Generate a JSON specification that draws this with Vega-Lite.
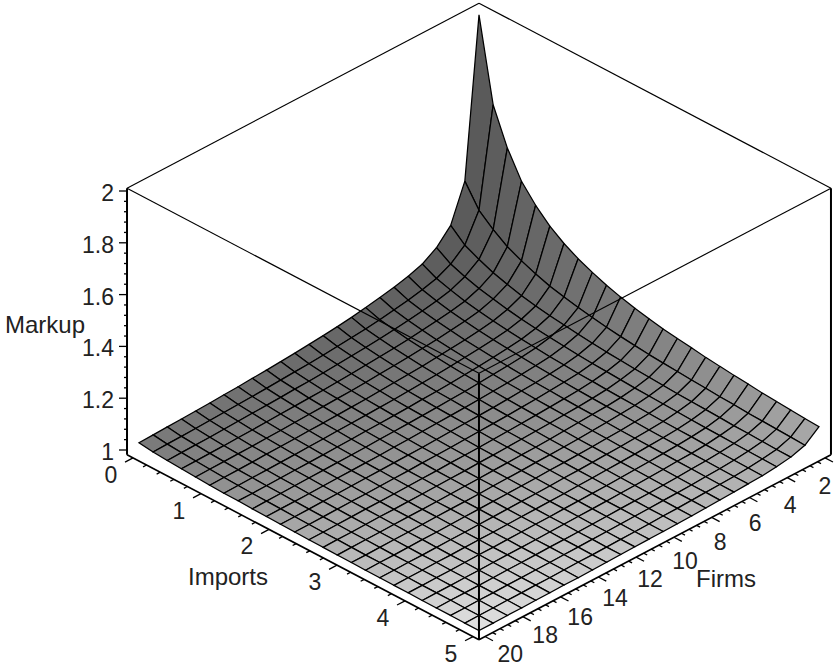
{"$schema":"https://vega.github.io/schema/vega-lite/v6.json","width":835,"height":671,"autosize":{"type":"fit","contains":"padding"},"padding":0,"background":"white","view":{"stroke":null},
"datasets":{
"surface":[
{"i":0,"n":2,"z":1.989},{"i":0.208,"n":2,"z":1.671},{"i":0.417,"n":2,"z":1.533},{"i":0.625,"n":2,"z":1.433},{"i":0.833,"n":2,"z":1.369},{"i":1.042,"n":2,"z":1.317},{"i":1.25,"n":2,"z":1.279},{"i":1.458,"n":2,"z":1.249},{"i":1.667,"n":2,"z":1.225},{"i":1.875,"n":2,"z":1.204},{"i":2.083,"n":2,"z":1.187},{"i":2.292,"n":2,"z":1.173},{"i":2.5,"n":2,"z":1.161},{"i":2.708,"n":2,"z":1.15},{"i":2.917,"n":2,"z":1.142},{"i":3.125,"n":2,"z":1.135},{"i":3.333,"n":2,"z":1.127},{"i":3.542,"n":2,"z":1.121},{"i":3.75,"n":2,"z":1.115},{"i":3.958,"n":2,"z":1.11},{"i":4.167,"n":2,"z":1.104},{"i":4.375,"n":2,"z":1.1},{"i":4.583,"n":2,"z":1.096},{"i":4.792,"n":2,"z":1.092},{"i":5,"n":2,"z":1.089},
{"i":0,"n":2.75,"z":1.376},{"i":0.208,"n":2.75,"z":1.292},{"i":0.417,"n":2.75,"z":1.246},{"i":0.625,"n":2.75,"z":1.209},{"i":0.833,"n":2.75,"z":1.183},{"i":1.042,"n":2.75,"z":1.161},{"i":1.25,"n":2.75,"z":1.143},{"i":1.458,"n":2.75,"z":1.13},{"i":1.667,"n":2.75,"z":1.118},{"i":1.875,"n":2.75,"z":1.108},{"i":2.083,"n":2.75,"z":1.099},{"i":2.292,"n":2.75,"z":1.092},{"i":2.5,"n":2.75,"z":1.086},{"i":2.708,"n":2.75,"z":1.08},{"i":2.917,"n":2.75,"z":1.076},{"i":3.125,"n":2.75,"z":1.072},{"i":3.333,"n":2.75,"z":1.068},{"i":3.542,"n":2.75,"z":1.065},{"i":3.75,"n":2.75,"z":1.061},{"i":3.958,"n":2.75,"z":1.059},{"i":4.167,"n":2.75,"z":1.055},{"i":4.375,"n":2.75,"z":1.053},{"i":4.583,"n":2.75,"z":1.051},{"i":4.792,"n":2.75,"z":1.049},{"i":5,"n":2.75,"z":1.046},
{"i":0,"n":3.5,"z":1.234},{"i":0.208,"n":3.5,"z":1.186},{"i":0.417,"n":3.5,"z":1.16},{"i":0.625,"n":3.5,"z":1.137},{"i":0.833,"n":3.5,"z":1.121},{"i":1.042,"n":3.5,"z":1.106},{"i":1.25,"n":3.5,"z":1.095},{"i":1.458,"n":3.5,"z":1.086},{"i":1.667,"n":3.5,"z":1.079},{"i":1.875,"n":3.5,"z":1.072},{"i":2.083,"n":3.5,"z":1.066},{"i":2.292,"n":3.5,"z":1.061},{"i":2.5,"n":3.5,"z":1.057},{"i":2.708,"n":3.5,"z":1.053},{"i":2.917,"n":3.5,"z":1.05},{"i":3.125,"n":3.5,"z":1.047},{"i":3.333,"n":3.5,"z":1.044},{"i":3.542,"n":3.5,"z":1.042},{"i":3.75,"n":3.5,"z":1.04},{"i":3.958,"n":3.5,"z":1.038},{"i":4.167,"n":3.5,"z":1.035},{"i":4.375,"n":3.5,"z":1.034},{"i":4.583,"n":3.5,"z":1.032},{"i":4.792,"n":3.5,"z":1.03},{"i":5,"n":3.5,"z":1.029},
{"i":0,"n":4.25,"z":1.177},{"i":0.208,"n":4.25,"z":1.142},{"i":0.417,"n":4.25,"z":1.122},{"i":0.625,"n":4.25,"z":1.105},{"i":0.833,"n":4.25,"z":1.093},{"i":1.042,"n":4.25,"z":1.082},{"i":1.25,"n":4.25,"z":1.073},{"i":1.458,"n":4.25,"z":1.066},{"i":1.667,"n":4.25,"z":1.06},{"i":1.875,"n":4.25,"z":1.055},{"i":2.083,"n":4.25,"z":1.05},{"i":2.292,"n":4.25,"z":1.046},{"i":2.5,"n":4.25,"z":1.043},{"i":2.708,"n":4.25,"z":1.04},{"i":2.917,"n":4.25,"z":1.037},{"i":3.125,"n":4.25,"z":1.035},{"i":3.333,"n":4.25,"z":1.033},{"i":3.542,"n":4.25,"z":1.031},{"i":3.75,"n":4.25,"z":1.029},{"i":3.958,"n":4.25,"z":1.027},{"i":4.167,"n":4.25,"z":1.026},{"i":4.375,"n":4.25,"z":1.024},{"i":4.583,"n":4.25,"z":1.023},{"i":4.792,"n":4.25,"z":1.022},{"i":5,"n":4.25,"z":1.021},
{"i":0,"n":5,"z":1.142},{"i":0.208,"n":5,"z":1.115},{"i":0.417,"n":5,"z":1.099},{"i":0.625,"n":5,"z":1.085},{"i":0.833,"n":5,"z":1.075},{"i":1.042,"n":5,"z":1.066},{"i":1.25,"n":5,"z":1.059},{"i":1.458,"n":5,"z":1.053},{"i":1.667,"n":5,"z":1.048},{"i":1.875,"n":5,"z":1.043},{"i":2.083,"n":5,"z":1.04},{"i":2.292,"n":5,"z":1.036},{"i":2.5,"n":5,"z":1.034},{"i":2.708,"n":5,"z":1.031},{"i":2.917,"n":5,"z":1.029},{"i":3.125,"n":5,"z":1.027},{"i":3.333,"n":5,"z":1.025},{"i":3.542,"n":5,"z":1.023},{"i":3.75,"n":5,"z":1.022},{"i":3.958,"n":5,"z":1.021},{"i":4.167,"n":5,"z":1.019},{"i":4.375,"n":5,"z":1.018},{"i":4.583,"n":5,"z":1.017},{"i":4.792,"n":5,"z":1.016},{"i":5,"n":5,"z":1.015},
{"i":0,"n":5.75,"z":1.124},{"i":0.208,"n":5.75,"z":1.1},{"i":0.417,"n":5.75,"z":1.086},{"i":0.625,"n":5.75,"z":1.074},{"i":0.833,"n":5.75,"z":1.065},{"i":1.042,"n":5.75,"z":1.057},{"i":1.25,"n":5.75,"z":1.051},{"i":1.458,"n":5.75,"z":1.046},{"i":1.667,"n":5.75,"z":1.041},{"i":1.875,"n":5.75,"z":1.037},{"i":2.083,"n":5.75,"z":1.034},{"i":2.292,"n":5.75,"z":1.031},{"i":2.5,"n":5.75,"z":1.028},{"i":2.708,"n":5.75,"z":1.026},{"i":2.917,"n":5.75,"z":1.024},{"i":3.125,"n":5.75,"z":1.023},{"i":3.333,"n":5.75,"z":1.021},{"i":3.542,"n":5.75,"z":1.019},{"i":3.75,"n":5.75,"z":1.018},{"i":3.958,"n":5.75,"z":1.017},{"i":4.167,"n":5.75,"z":1.015},{"i":4.375,"n":5.75,"z":1.014},{"i":4.583,"n":5.75,"z":1.013},{"i":4.792,"n":5.75,"z":1.012},{"i":5,"n":5.75,"z":1.012},
{"i":0,"n":6.5,"z":1.11},{"i":0.208,"n":6.5,"z":1.089},{"i":0.417,"n":6.5,"z":1.076},{"i":0.625,"n":6.5,"z":1.066},{"i":0.833,"n":6.5,"z":1.058},{"i":1.042,"n":6.5,"z":1.05},{"i":1.25,"n":6.5,"z":1.045},{"i":1.458,"n":6.5,"z":1.04},{"i":1.667,"n":6.5,"z":1.036},{"i":1.875,"n":6.5,"z":1.032},{"i":2.083,"n":6.5,"z":1.029},{"i":2.292,"n":6.5,"z":1.027},{"i":2.5,"n":6.5,"z":1.024},{"i":2.708,"n":6.5,"z":1.022},{"i":2.917,"n":6.5,"z":1.021},{"i":3.125,"n":6.5,"z":1.019},{"i":3.333,"n":6.5,"z":1.017},{"i":3.542,"n":6.5,"z":1.016},{"i":3.75,"n":6.5,"z":1.015},{"i":3.958,"n":6.5,"z":1.014},{"i":4.167,"n":6.5,"z":1.013},{"i":4.375,"n":6.5,"z":1.012},{"i":4.583,"n":6.5,"z":1.011},{"i":4.792,"n":6.5,"z":1.01},{"i":5,"n":6.5,"z":1.009},
{"i":0,"n":7.25,"z":1.099},{"i":0.208,"n":7.25,"z":1.08},{"i":0.417,"n":7.25,"z":1.068},{"i":0.625,"n":7.25,"z":1.059},{"i":0.833,"n":7.25,"z":1.051},{"i":1.042,"n":7.25,"z":1.045},{"i":1.25,"n":7.25,"z":1.04},{"i":1.458,"n":7.25,"z":1.035},{"i":1.667,"n":7.25,"z":1.032},{"i":1.875,"n":7.25,"z":1.028},{"i":2.083,"n":7.25,"z":1.026},{"i":2.292,"n":7.25,"z":1.023},{"i":2.5,"n":7.25,"z":1.021},{"i":2.708,"n":7.25,"z":1.019},{"i":2.917,"n":7.25,"z":1.018},{"i":3.125,"n":7.25,"z":1.016},{"i":3.333,"n":7.25,"z":1.015},{"i":3.542,"n":7.25,"z":1.013},{"i":3.75,"n":7.25,"z":1.012},{"i":3.958,"n":7.25,"z":1.011},{"i":4.167,"n":7.25,"z":1.01},{"i":4.375,"n":7.25,"z":1.009},{"i":4.583,"n":7.25,"z":1.008},{"i":4.792,"n":7.25,"z":1.008},{"i":5,"n":7.25,"z":1.007},
{"i":0,"n":8,"z":1.089},{"i":0.208,"n":8,"z":1.071},{"i":0.417,"n":8,"z":1.061},{"i":0.625,"n":8,"z":1.052},{"i":0.833,"n":8,"z":1.046},{"i":1.042,"n":8,"z":1.04},{"i":1.25,"n":8,"z":1.035},{"i":1.458,"n":8,"z":1.031},{"i":1.667,"n":8,"z":1.028},{"i":1.875,"n":8,"z":1.025},{"i":2.083,"n":8,"z":1.022},{"i":2.292,"n":8,"z":1.02},{"i":2.5,"n":8,"z":1.018},{"i":2.708,"n":8,"z":1.016},{"i":2.917,"n":8,"z":1.015},{"i":3.125,"n":8,"z":1.013},{"i":3.333,"n":8,"z":1.012},{"i":3.542,"n":8,"z":1.011},{"i":3.75,"n":8,"z":1.01},{"i":3.958,"n":8,"z":1.009},{"i":4.167,"n":8,"z":1.008},{"i":4.375,"n":8,"z":1.007},{"i":4.583,"n":8,"z":1.006},{"i":4.792,"n":8,"z":1.006},{"i":5,"n":8,"z":1.005},
{"i":0,"n":8.75,"z":1.08},{"i":0.208,"n":8.75,"z":1.064},{"i":0.417,"n":8.75,"z":1.055},{"i":0.625,"n":8.75,"z":1.047},{"i":0.833,"n":8.75,"z":1.041},{"i":1.042,"n":8.75,"z":1.035},{"i":1.25,"n":8.75,"z":1.031},{"i":1.458,"n":8.75,"z":1.027},{"i":1.667,"n":8.75,"z":1.024},{"i":1.875,"n":8.75,"z":1.022},{"i":2.083,"n":8.75,"z":1.019},{"i":2.292,"n":8.75,"z":1.017},{"i":2.5,"n":8.75,"z":1.015},{"i":2.708,"n":8.75,"z":1.014},{"i":2.917,"n":8.75,"z":1.012},{"i":3.125,"n":8.75,"z":1.011},{"i":3.333,"n":8.75,"z":1.01},{"i":3.542,"n":8.75,"z":1.009},{"i":3.75,"n":8.75,"z":1.008},{"i":3.958,"n":8.75,"z":1.007},{"i":4.167,"n":8.75,"z":1.006},{"i":4.375,"n":8.75,"z":1.005},{"i":4.583,"n":8.75,"z":1.005},{"i":4.792,"n":8.75,"z":1.004},{"i":5,"n":8.75,"z":1.003},
{"i":0,"n":9.5,"z":1.073},{"i":0.208,"n":9.5,"z":1.059},{"i":0.417,"n":9.5,"z":1.05},{"i":0.625,"n":9.5,"z":1.043},{"i":0.833,"n":9.5,"z":1.037},{"i":1.042,"n":9.5,"z":1.032},{"i":1.25,"n":9.5,"z":1.028},{"i":1.458,"n":9.5,"z":1.024},{"i":1.667,"n":9.5,"z":1.022},{"i":1.875,"n":9.5,"z":1.019},{"i":2.083,"n":9.5,"z":1.017},{"i":2.292,"n":9.5,"z":1.015},{"i":2.5,"n":9.5,"z":1.013},{"i":2.708,"n":9.5,"z":1.012},{"i":2.917,"n":9.5,"z":1.01},{"i":3.125,"n":9.5,"z":1.009},{"i":3.333,"n":9.5,"z":1.008},{"i":3.542,"n":9.5,"z":1.007},{"i":3.75,"n":9.5,"z":1.006},{"i":3.958,"n":9.5,"z":1.005},{"i":4.167,"n":9.5,"z":1.005},{"i":4.375,"n":9.5,"z":1.004},{"i":4.583,"n":9.5,"z":1.003},{"i":4.792,"n":9.5,"z":1.003},{"i":5,"n":9.5,"z":1.002},
{"i":0,"n":10.25,"z":1.067},{"i":0.208,"n":10.25,"z":1.054},{"i":0.417,"n":10.25,"z":1.046},{"i":0.625,"n":10.25,"z":1.039},{"i":0.833,"n":10.25,"z":1.034},{"i":1.042,"n":10.25,"z":1.029},{"i":1.25,"n":10.25,"z":1.025},{"i":1.458,"n":10.25,"z":1.022},{"i":1.667,"n":10.25,"z":1.019},{"i":1.875,"n":10.25,"z":1.017},{"i":2.083,"n":10.25,"z":1.015},{"i":2.292,"n":10.25,"z":1.013},{"i":2.5,"n":10.25,"z":1.011},{"i":2.708,"n":10.25,"z":1.01},{"i":2.917,"n":10.25,"z":1.009},{"i":3.125,"n":10.25,"z":1.008},{"i":3.333,"n":10.25,"z":1.007},{"i":3.542,"n":10.25,"z":1.006},{"i":3.75,"n":10.25,"z":1.005},{"i":3.958,"n":10.25,"z":1.004},{"i":4.167,"n":10.25,"z":1.003},{"i":4.375,"n":10.25,"z":1.003},{"i":4.583,"n":10.25,"z":1.002},{"i":4.792,"n":10.25,"z":1.001},{"i":5,"n":10.25,"z":1.001},
{"i":0,"n":11,"z":1.062},{"i":0.208,"n":11,"z":1.049},{"i":0.417,"n":11,"z":1.042},{"i":0.625,"n":11,"z":1.035},{"i":0.833,"n":11,"z":1.03},{"i":1.042,"n":11,"z":1.026},{"i":1.25,"n":11,"z":1.022},{"i":1.458,"n":11,"z":1.019},{"i":1.667,"n":11,"z":1.017},{"i":1.875,"n":11,"z":1.015},{"i":2.083,"n":11,"z":1.013},{"i":2.292,"n":11,"z":1.011},{"i":2.5,"n":11,"z":1.009},{"i":2.708,"n":11,"z":1.008},{"i":2.917,"n":11,"z":1.007},{"i":3.125,"n":11,"z":1.006},{"i":3.333,"n":11,"z":1.005},{"i":3.542,"n":11,"z":1.004},{"i":3.75,"n":11,"z":1.003},{"i":3.958,"n":11,"z":1.003},{"i":4.167,"n":11,"z":1.002},{"i":4.375,"n":11,"z":1.001},{"i":4.583,"n":11,"z":1.001},{"i":4.792,"n":11,"z":1},{"i":5,"n":11,"z":1},
{"i":0,"n":11.75,"z":1.057},{"i":0.208,"n":11.75,"z":1.045},{"i":0.417,"n":11.75,"z":1.038},{"i":0.625,"n":11.75,"z":1.032},{"i":0.833,"n":11.75,"z":1.027},{"i":1.042,"n":11.75,"z":1.023},{"i":1.25,"n":11.75,"z":1.02},{"i":1.458,"n":11.75,"z":1.017},{"i":1.667,"n":11.75,"z":1.015},{"i":1.875,"n":11.75,"z":1.013},{"i":2.083,"n":11.75,"z":1.011},{"i":2.292,"n":11.75,"z":1.009},{"i":2.5,"n":11.75,"z":1.008},{"i":2.708,"n":11.75,"z":1.007},{"i":2.917,"n":11.75,"z":1.006},{"i":3.125,"n":11.75,"z":1.005},{"i":3.333,"n":11.75,"z":1.004},{"i":3.542,"n":11.75,"z":1.003},{"i":3.75,"n":11.75,"z":1.002},{"i":3.958,"n":11.75,"z":1.002},{"i":4.167,"n":11.75,"z":1.001},{"i":4.375,"n":11.75,"z":1},{"i":4.583,"n":11.75,"z":1},{"i":4.792,"n":11.75,"z":0.999},{"i":5,"n":11.75,"z":0.999},
{"i":0,"n":12.5,"z":1.053},{"i":0.208,"n":12.5,"z":1.042},{"i":0.417,"n":12.5,"z":1.035},{"i":0.625,"n":12.5,"z":1.029},{"i":0.833,"n":12.5,"z":1.025},{"i":1.042,"n":12.5,"z":1.021},{"i":1.25,"n":12.5,"z":1.018},{"i":1.458,"n":12.5,"z":1.015},{"i":1.667,"n":12.5,"z":1.013},{"i":1.875,"n":12.5,"z":1.011},{"i":2.083,"n":12.5,"z":1.009},{"i":2.292,"n":12.5,"z":1.008},{"i":2.5,"n":12.5,"z":1.007},{"i":2.708,"n":12.5,"z":1.005},{"i":2.917,"n":12.5,"z":1.004},{"i":3.125,"n":12.5,"z":1.004},{"i":3.333,"n":12.5,"z":1.003},{"i":3.542,"n":12.5,"z":1.002},{"i":3.75,"n":12.5,"z":1.001},{"i":3.958,"n":12.5,"z":1},{"i":4.167,"n":12.5,"z":1},{"i":4.375,"n":12.5,"z":0.999},{"i":4.583,"n":12.5,"z":0.999},{"i":4.792,"n":12.5,"z":0.998},{"i":5,"n":12.5,"z":0.998},
{"i":0,"n":13.25,"z":1.049},{"i":0.208,"n":13.25,"z":1.039},{"i":0.417,"n":13.25,"z":1.033},{"i":0.625,"n":13.25,"z":1.027},{"i":0.833,"n":13.25,"z":1.023},{"i":1.042,"n":13.25,"z":1.019},{"i":1.25,"n":13.25,"z":1.016},{"i":1.458,"n":13.25,"z":1.014},{"i":1.667,"n":13.25,"z":1.012},{"i":1.875,"n":13.25,"z":1.01},{"i":2.083,"n":13.25,"z":1.008},{"i":2.292,"n":13.25,"z":1.007},{"i":2.5,"n":13.25,"z":1.005},{"i":2.708,"n":13.25,"z":1.004},{"i":2.917,"n":13.25,"z":1.003},{"i":3.125,"n":13.25,"z":1.002},{"i":3.333,"n":13.25,"z":1.002},{"i":3.542,"n":13.25,"z":1.001},{"i":3.75,"n":13.25,"z":1},{"i":3.958,"n":13.25,"z":1},{"i":4.167,"n":13.25,"z":0.999},{"i":4.375,"n":13.25,"z":0.998},{"i":4.583,"n":13.25,"z":0.998},{"i":4.792,"n":13.25,"z":0.997},{"i":5,"n":13.25,"z":0.997},
{"i":0,"n":14,"z":1.046},{"i":0.208,"n":14,"z":1.036},{"i":0.417,"n":14,"z":1.03},{"i":0.625,"n":14,"z":1.025},{"i":0.833,"n":14,"z":1.021},{"i":1.042,"n":14,"z":1.017},{"i":1.25,"n":14,"z":1.015},{"i":1.458,"n":14,"z":1.012},{"i":1.667,"n":14,"z":1.01},{"i":1.875,"n":14,"z":1.008},{"i":2.083,"n":14,"z":1.007},{"i":2.292,"n":14,"z":1.005},{"i":2.5,"n":14,"z":1.004},{"i":2.708,"n":14,"z":1.003},{"i":2.917,"n":14,"z":1.002},{"i":3.125,"n":14,"z":1.001},{"i":3.333,"n":14,"z":1.001},{"i":3.542,"n":14,"z":1},{"i":3.75,"n":14,"z":0.999},{"i":3.958,"n":14,"z":0.999},{"i":4.167,"n":14,"z":0.998},{"i":4.375,"n":14,"z":0.998},{"i":4.583,"n":14,"z":0.997},{"i":4.792,"n":14,"z":0.997},{"i":5,"n":14,"z":0.996},
{"i":0,"n":14.75,"z":1.042},{"i":0.208,"n":14.75,"z":1.033},{"i":0.417,"n":14.75,"z":1.028},{"i":0.625,"n":14.75,"z":1.023},{"i":0.833,"n":14.75,"z":1.019},{"i":1.042,"n":14.75,"z":1.016},{"i":1.25,"n":14.75,"z":1.013},{"i":1.458,"n":14.75,"z":1.011},{"i":1.667,"n":14.75,"z":1.009},{"i":1.875,"n":14.75,"z":1.007},{"i":2.083,"n":14.75,"z":1.006},{"i":2.292,"n":14.75,"z":1.004},{"i":2.5,"n":14.75,"z":1.003},{"i":2.708,"n":14.75,"z":1.002},{"i":2.917,"n":14.75,"z":1.001},{"i":3.125,"n":14.75,"z":1.001},{"i":3.333,"n":14.75,"z":1},{"i":3.542,"n":14.75,"z":0.999},{"i":3.75,"n":14.75,"z":0.998},{"i":3.958,"n":14.75,"z":0.998},{"i":4.167,"n":14.75,"z":0.997},{"i":4.375,"n":14.75,"z":0.997},{"i":4.583,"n":14.75,"z":0.996},{"i":4.792,"n":14.75,"z":0.996},{"i":5,"n":14.75,"z":0.995},
{"i":0,"n":15.5,"z":1.04},{"i":0.208,"n":15.5,"z":1.031},{"i":0.417,"n":15.5,"z":1.026},{"i":0.625,"n":15.5,"z":1.021},{"i":0.833,"n":15.5,"z":1.017},{"i":1.042,"n":15.5,"z":1.014},{"i":1.25,"n":15.5,"z":1.012},{"i":1.458,"n":15.5,"z":1.009},{"i":1.667,"n":15.5,"z":1.008},{"i":1.875,"n":15.5,"z":1.006},{"i":2.083,"n":15.5,"z":1.005},{"i":2.292,"n":15.5,"z":1.003},{"i":2.5,"n":15.5,"z":1.002},{"i":2.708,"n":15.5,"z":1.001},{"i":2.917,"n":15.5,"z":1},{"i":3.125,"n":15.5,"z":1},{"i":3.333,"n":15.5,"z":0.999},{"i":3.542,"n":15.5,"z":0.998},{"i":3.75,"n":15.5,"z":0.998},{"i":3.958,"n":15.5,"z":0.997},{"i":4.167,"n":15.5,"z":0.997},{"i":4.375,"n":15.5,"z":0.996},{"i":4.583,"n":15.5,"z":0.996},{"i":4.792,"n":15.5,"z":0.995},{"i":5,"n":15.5,"z":0.995},
{"i":0,"n":16.25,"z":1.037},{"i":0.208,"n":16.25,"z":1.029},{"i":0.417,"n":16.25,"z":1.024},{"i":0.625,"n":16.25,"z":1.019},{"i":0.833,"n":16.25,"z":1.016},{"i":1.042,"n":16.25,"z":1.013},{"i":1.25,"n":16.25,"z":1.01},{"i":1.458,"n":16.25,"z":1.008},{"i":1.667,"n":16.25,"z":1.007},{"i":1.875,"n":16.25,"z":1.005},{"i":2.083,"n":16.25,"z":1.004},{"i":2.292,"n":16.25,"z":1.002},{"i":2.5,"n":16.25,"z":1.001},{"i":2.708,"n":16.25,"z":1},{"i":2.917,"n":16.25,"z":1},{"i":3.125,"n":16.25,"z":0.999},{"i":3.333,"n":16.25,"z":0.998},{"i":3.542,"n":16.25,"z":0.998},{"i":3.75,"n":16.25,"z":0.997},{"i":3.958,"n":16.25,"z":0.997},{"i":4.167,"n":16.25,"z":0.996},{"i":4.375,"n":16.25,"z":0.996},{"i":4.583,"n":16.25,"z":0.995},{"i":4.792,"n":16.25,"z":0.995},{"i":5,"n":16.25,"z":0.994},
{"i":0,"n":17,"z":1.035},{"i":0.208,"n":17,"z":1.027},{"i":0.417,"n":17,"z":1.022},{"i":0.625,"n":17,"z":1.018},{"i":0.833,"n":17,"z":1.014},{"i":1.042,"n":17,"z":1.012},{"i":1.25,"n":17,"z":1.009},{"i":1.458,"n":17,"z":1.007},{"i":1.667,"n":17,"z":1.006},{"i":1.875,"n":17,"z":1.004},{"i":2.083,"n":17,"z":1.003},{"i":2.292,"n":17,"z":1.002},{"i":2.5,"n":17,"z":1.001},{"i":2.708,"n":17,"z":1},{"i":2.917,"n":17,"z":0.999},{"i":3.125,"n":17,"z":0.998},{"i":3.333,"n":17,"z":0.998},{"i":3.542,"n":17,"z":0.997},{"i":3.75,"n":17,"z":0.996},{"i":3.958,"n":17,"z":0.996},{"i":4.167,"n":17,"z":0.995},{"i":4.375,"n":17,"z":0.995},{"i":4.583,"n":17,"z":0.995},{"i":4.792,"n":17,"z":0.994},{"i":5,"n":17,"z":0.994},
{"i":0,"n":17.75,"z":1.033},{"i":0.208,"n":17.75,"z":1.025},{"i":0.417,"n":17.75,"z":1.02},{"i":0.625,"n":17.75,"z":1.016},{"i":0.833,"n":17.75,"z":1.013},{"i":1.042,"n":17.75,"z":1.01},{"i":1.25,"n":17.75,"z":1.008},{"i":1.458,"n":17.75,"z":1.006},{"i":1.667,"n":17.75,"z":1.005},{"i":1.875,"n":17.75,"z":1.003},{"i":2.083,"n":17.75,"z":1.002},{"i":2.292,"n":17.75,"z":1.001},{"i":2.5,"n":17.75,"z":1},{"i":2.708,"n":17.75,"z":0.999},{"i":2.917,"n":17.75,"z":0.998},{"i":3.125,"n":17.75,"z":0.998},{"i":3.333,"n":17.75,"z":0.997},{"i":3.542,"n":17.75,"z":0.996},{"i":3.75,"n":17.75,"z":0.996},{"i":3.958,"n":17.75,"z":0.995},{"i":4.167,"n":17.75,"z":0.995},{"i":4.375,"n":17.75,"z":0.994},{"i":4.583,"n":17.75,"z":0.994},{"i":4.792,"n":17.75,"z":0.994},{"i":5,"n":17.75,"z":0.993},
{"i":0,"n":18.5,"z":1.031},{"i":0.208,"n":18.5,"z":1.023},{"i":0.417,"n":18.5,"z":1.019},{"i":0.625,"n":18.5,"z":1.015},{"i":0.833,"n":18.5,"z":1.012},{"i":1.042,"n":18.5,"z":1.009},{"i":1.25,"n":18.5,"z":1.007},{"i":1.458,"n":18.5,"z":1.005},{"i":1.667,"n":18.5,"z":1.004},{"i":1.875,"n":18.5,"z":1.002},{"i":2.083,"n":18.5,"z":1.001},{"i":2.292,"n":18.5,"z":1},{"i":2.5,"n":18.5,"z":0.999},{"i":2.708,"n":18.5,"z":0.998},{"i":2.917,"n":18.5,"z":0.998},{"i":3.125,"n":18.5,"z":0.997},{"i":3.333,"n":18.5,"z":0.996},{"i":3.542,"n":18.5,"z":0.996},{"i":3.75,"n":18.5,"z":0.995},{"i":3.958,"n":18.5,"z":0.995},{"i":4.167,"n":18.5,"z":0.994},{"i":4.375,"n":18.5,"z":0.994},{"i":4.583,"n":18.5,"z":0.994},{"i":4.792,"n":18.5,"z":0.993},{"i":5,"n":18.5,"z":0.993},
{"i":0,"n":19.25,"z":1.029},{"i":0.208,"n":19.25,"z":1.022},{"i":0.417,"n":19.25,"z":1.018},{"i":0.625,"n":19.25,"z":1.014},{"i":0.833,"n":19.25,"z":1.011},{"i":1.042,"n":19.25,"z":1.008},{"i":1.25,"n":19.25,"z":1.006},{"i":1.458,"n":19.25,"z":1.004},{"i":1.667,"n":19.25,"z":1.003},{"i":1.875,"n":19.25,"z":1.002},{"i":2.083,"n":19.25,"z":1},{"i":2.292,"n":19.25,"z":0.999},{"i":2.5,"n":19.25,"z":0.998},{"i":2.708,"n":19.25,"z":0.998},{"i":2.917,"n":19.25,"z":0.997},{"i":3.125,"n":19.25,"z":0.996},{"i":3.333,"n":19.25,"z":0.996},{"i":3.542,"n":19.25,"z":0.995},{"i":3.75,"n":19.25,"z":0.995},{"i":3.958,"n":19.25,"z":0.994},{"i":4.167,"n":19.25,"z":0.994},{"i":4.375,"n":19.25,"z":0.994},{"i":4.583,"n":19.25,"z":0.993},{"i":4.792,"n":19.25,"z":0.993},{"i":5,"n":19.25,"z":0.992},
{"i":0,"n":20,"z":1.027},{"i":0.208,"n":20,"z":1.02},{"i":0.417,"n":20,"z":1.016},{"i":0.625,"n":20,"z":1.013},{"i":0.833,"n":20,"z":1.01},{"i":1.042,"n":20,"z":1.007},{"i":1.25,"n":20,"z":1.005},{"i":1.458,"n":20,"z":1.004},{"i":1.667,"n":20,"z":1.002},{"i":1.875,"n":20,"z":1.001},{"i":2.083,"n":20,"z":1},{"i":2.292,"n":20,"z":0.999},{"i":2.5,"n":20,"z":0.998},{"i":2.708,"n":20,"z":0.997},{"i":2.917,"n":20,"z":0.996},{"i":3.125,"n":20,"z":0.996},{"i":3.333,"n":20,"z":0.995},{"i":3.542,"n":20,"z":0.995},{"i":3.75,"n":20,"z":0.994},{"i":3.958,"n":20,"z":0.994},{"i":4.167,"n":20,"z":0.993},{"i":4.375,"n":20,"z":0.993},{"i":4.583,"n":20,"z":0.993},{"i":4.792,"n":20,"z":0.992},{"i":5,"n":20,"z":0.992}],
"edges":[{"i":-0.088,"n":1.683,"z":2.01,"i2":-0.088,"n2":20.317,"z2":2.01},{"i":-0.088,"n":20.317,"z":2.01,"i2":5.088,"n2":20.317,"z2":2.01},{"i":5.088,"n":20.317,"z":2.01,"i2":5.088,"n2":1.683,"z2":2.01},{"i":5.088,"n":1.683,"z":2.01,"i2":-0.088,"n2":1.683,"z2":2.01},{"i":-0.088,"n":20.317,"z":2.01,"i2":-0.088,"n2":20.317,"z2":0.981},{"i":5.088,"n":20.317,"z":2.01,"i2":5.088,"n2":20.317,"z2":0.981},{"i":5.088,"n":1.683,"z":2.01,"i2":5.088,"n2":1.683,"z2":0.981},{"i":-0.088,"n":20.317,"z":0.981,"i2":5.088,"n2":20.317,"z2":0.981},{"i":5.088,"n":20.317,"z":0.981,"i2":5.088,"n2":1.683,"z2":0.981}],
"ticks":[{"axis":"z","v":1,"major":1,"label":"1"},{"axis":"z","v":1.04,"major":0},{"axis":"z","v":1.08,"major":0},{"axis":"z","v":1.12,"major":0},{"axis":"z","v":1.16,"major":0},{"axis":"z","v":1.2,"major":1,"label":"1.2"},{"axis":"z","v":1.24,"major":0},{"axis":"z","v":1.28,"major":0},{"axis":"z","v":1.32,"major":0},{"axis":"z","v":1.36,"major":0},{"axis":"z","v":1.4,"major":1,"label":"1.4"},{"axis":"z","v":1.44,"major":0},{"axis":"z","v":1.48,"major":0},{"axis":"z","v":1.52,"major":0},{"axis":"z","v":1.56,"major":0},{"axis":"z","v":1.6,"major":1,"label":"1.6"},{"axis":"z","v":1.64,"major":0},{"axis":"z","v":1.68,"major":0},{"axis":"z","v":1.72,"major":0},{"axis":"z","v":1.76,"major":0},{"axis":"z","v":1.8,"major":1,"label":"1.8"},{"axis":"z","v":1.84,"major":0},{"axis":"z","v":1.88,"major":0},{"axis":"z","v":1.92,"major":0},{"axis":"z","v":1.96,"major":0},{"axis":"z","v":2,"major":1,"label":"2"},
{"axis":"i","v":0,"major":1,"label":"0"},{"axis":"i","v":0.2,"major":0},{"axis":"i","v":0.4,"major":0},{"axis":"i","v":0.6,"major":0},{"axis":"i","v":0.8,"major":0},{"axis":"i","v":1,"major":1,"label":"1"},{"axis":"i","v":1.2,"major":0},{"axis":"i","v":1.4,"major":0},{"axis":"i","v":1.6,"major":0},{"axis":"i","v":1.8,"major":0},{"axis":"i","v":2,"major":1,"label":"2"},{"axis":"i","v":2.2,"major":0},{"axis":"i","v":2.4,"major":0},{"axis":"i","v":2.6,"major":0},{"axis":"i","v":2.8,"major":0},{"axis":"i","v":3,"major":1,"label":"3"},{"axis":"i","v":3.2,"major":0},{"axis":"i","v":3.4,"major":0},{"axis":"i","v":3.6,"major":0},{"axis":"i","v":3.8,"major":0},{"axis":"i","v":4,"major":1,"label":"4"},{"axis":"i","v":4.2,"major":0},{"axis":"i","v":4.4,"major":0},{"axis":"i","v":4.6,"major":0},{"axis":"i","v":4.8,"major":0},{"axis":"i","v":5,"major":1,"label":"5"},
{"axis":"f","v":2,"major":1,"label":"2"},{"axis":"f","v":2.4,"major":0},{"axis":"f","v":2.8,"major":0},{"axis":"f","v":3.2,"major":0},{"axis":"f","v":3.6,"major":0},{"axis":"f","v":4,"major":1,"label":"4"},{"axis":"f","v":4.4,"major":0},{"axis":"f","v":4.8,"major":0},{"axis":"f","v":5.2,"major":0},{"axis":"f","v":5.6,"major":0},{"axis":"f","v":6,"major":1,"label":"6"},{"axis":"f","v":6.4,"major":0},{"axis":"f","v":6.8,"major":0},{"axis":"f","v":7.2,"major":0},{"axis":"f","v":7.6,"major":0},{"axis":"f","v":8,"major":1,"label":"8"},{"axis":"f","v":8.4,"major":0},{"axis":"f","v":8.8,"major":0},{"axis":"f","v":9.2,"major":0},{"axis":"f","v":9.6,"major":0},{"axis":"f","v":10,"major":1,"label":"10"},{"axis":"f","v":10.4,"major":0},{"axis":"f","v":10.8,"major":0},{"axis":"f","v":11.2,"major":0},{"axis":"f","v":11.6,"major":0},{"axis":"f","v":12,"major":1,"label":"12"},{"axis":"f","v":12.4,"major":0},{"axis":"f","v":12.8,"major":0},{"axis":"f","v":13.2,"major":0},{"axis":"f","v":13.6,"major":0},{"axis":"f","v":14,"major":1,"label":"14"},{"axis":"f","v":14.4,"major":0},{"axis":"f","v":14.8,"major":0},{"axis":"f","v":15.2,"major":0},{"axis":"f","v":15.6,"major":0},{"axis":"f","v":16,"major":1,"label":"16"},{"axis":"f","v":16.4,"major":0},{"axis":"f","v":16.8,"major":0},{"axis":"f","v":17.2,"major":0},{"axis":"f","v":17.6,"major":0},{"axis":"f","v":18,"major":1,"label":"18"},{"axis":"f","v":18.4,"major":0},{"axis":"f","v":18.8,"major":0},{"axis":"f","v":19.2,"major":0},{"axis":"f","v":19.6,"major":0},{"axis":"f","v":20,"major":1,"label":"20"}],
"titles":[{"axis":"z","label":"Markup"},{"axis":"i","label":"Imports"},{"axis":"f","label":"Firms"}]
},
"encoding":{"x":{"field":"px","type":"quantitative","scale":{"domain":[0,835],"nice":false,"zero":false},"axis":null},"y":{"field":"py","type":"quantitative","scale":{"domain":[671,0],"nice":false,"zero":false},"axis":null}},
"layer":[
{"data":{"name":"surface"},"transform":[
{"window":[{"op":"lead","field":"z","as":"z_i"},{"op":"lead","field":"i","as":"i1"}],"groupby":["n"],"sort":[{"field":"i"}]},
{"window":[{"op":"lead","field":"z","as":"z_n"},{"op":"lead","field":"n","as":"n1"},{"op":"lead","field":"z_i","as":"z_d"}],"groupby":["i"],"sort":[{"field":"n"}]},
{"filter":"isValid(datum.z_d)"},
{"calculate":"[datum.z,datum.z_i,datum.z_d,datum.z_n,datum.z]","as":"zs"},
{"calculate":"[datum.i,datum.i1,datum.i1,datum.i,datum.i]","as":"is"},
{"calculate":"[datum.n,datum.n,datum.n1,datum.n1,datum.n]","as":"ns"},
{"calculate":"[0,1,2,3,4]","as":"ord"},
{"calculate":"datum.i/5","as":"u"},{"calculate":"(datum.n-2)/18","as":"w"},
{"calculate":"floor(90+80*datum.u+35*datum.w+25*datum.u*datum.w)","as":"g"},
{"calculate":"'rgb('+datum.g+','+datum.g+','+datum.g+')'","as":"shade"},
{"calculate":"datum.i+'_'+datum.n","as":"cell"},
{"flatten":["zs","is","ns","ord"],"as":["pz","pi","pn","po"]},
{"calculate":"479-18.89*(datum.pn-2)+68*datum.pi","as":"px"},
{"calculate":"276+9.93*(datum.pn-2)+35.74*datum.pi-(datum.pz-0.981)*259","as":"py"}],
"mark":{"type":"line","filled":true,"stroke":"#000","strokeWidth":1.25,"clip":false},
"encoding":{"order":{"field":"po","type":"quantitative"},"detail":{"field":"cell"},"fill":{"field":"shade","type":"nominal","scale":null}}},
{"data":{"name":"edges"},"transform":[
{"calculate":"479-18.89*(datum.n-2)+68*datum.i","as":"px"},
{"calculate":"276+9.93*(datum.n-2)+35.74*datum.i-(datum.z-0.981)*259","as":"py"},
{"calculate":"479-18.89*(datum.n2-2)+68*datum.i2","as":"px2"},
{"calculate":"276+9.93*(datum.n2-2)+35.74*datum.i2-(datum.z2-0.981)*259","as":"py2"},
{"calculate":"datum.z==datum.z2?(datum.z<1?1.6:1.15):2","as":"sw"}],
"mark":{"type":"rule","stroke":"#000"},
"encoding":{"x2":{"field":"px2"},"y2":{"field":"py2"},"strokeWidth":{"field":"sw","type":"quantitative","scale":null}}},
{"data":{"name":"ticks"},"transform":[
{"calculate":"datum.axis=='z'?128:datum.axis=='i'?133+68*datum.v:825-18.89*(datum.v-2)","as":"px"},
{"calculate":"datum.axis=='z'?450-(datum.v-1)*259:datum.axis=='i'?457.9+35.74*datum.v:457.8+9.93*(datum.v-2)","as":"py"},
{"calculate":"datum.major?9:4","as":"len"},
{"calculate":"datum.px+datum.len*(datum.axis=='z'?-1:datum.axis=='i'?-0.885:0.885)","as":"px2"},
{"calculate":"datum.py+datum.len*(datum.axis=='z'?0:0.465)","as":"py2"}],
"mark":{"type":"rule","stroke":"#000","strokeWidth":1.3},
"encoding":{"x2":{"field":"px2"},"y2":{"field":"py2"}}},
{"data":{"name":"ticks"},"transform":[{"filter":"datum.major==1&&datum.axis!='z'"},
{"calculate":"datum.axis=='i'?111+68*datum.v:825-17.49*(datum.v-2)","as":"px"},
{"calculate":"datum.axis=='i'?475.9+35.74*datum.v:486.8+9.35*(datum.v-2)","as":"py"}],
"mark":{"type":"text","font":"Liberation Sans","fontSize":23,"baseline":"middle","align":"center","color":"#222"},
"encoding":{"text":{"field":"label"}}},
{"data":{"name":"ticks"},"transform":[{"filter":"datum.major==1&&datum.axis=='z'"},
{"calculate":"114","as":"px"},
{"calculate":"453-(datum.v-1)*259","as":"py"}],
"mark":{"type":"text","font":"Liberation Sans","fontSize":23,"baseline":"middle","align":"right","color":"#222"},
"encoding":{"text":{"field":"label"}}},
{"data":{"name":"titles"},"transform":[
{"calculate":"datum.axis=='z'?45:datum.axis=='i'?228:726","as":"px"},
{"calculate":"datum.axis=='z'?326:datum.axis=='i'?578:580","as":"py"}],
"mark":{"type":"text","font":"Liberation Sans","fontSize":24,"baseline":"middle","align":"center","color":"#222"},
"encoding":{"text":{"field":"label"}}}
]}
